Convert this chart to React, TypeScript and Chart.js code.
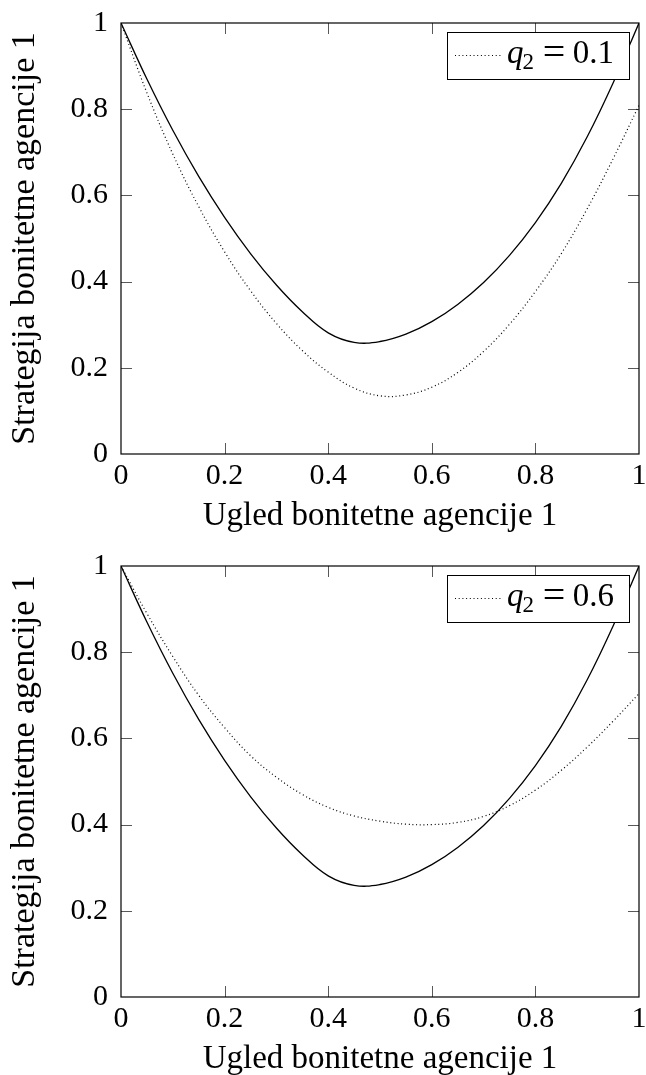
import React, { useEffect, useRef } from 'react';
import { Chart, registerables } from 'chart.js';

Chart.register(...registerables);

// ---- data ----
const xValues = [0, 0.05, 0.1, 0.15, 0.2, 0.25, 0.3, 0.35, 0.4, 0.45, 0.5, 0.55, 0.6, 0.65, 0.7, 0.75, 0.8, 0.85, 0.9, 0.95, 1];
const solidValues = [1, 0.87, 0.751, 0.644, 0.549, 0.465, 0.392, 0.33, 0.281, 0.259, 0.261, 0.278, 0.307, 0.347, 0.398, 0.461, 0.537, 0.628, 0.736, 0.861, 1];
const dottedQ01 = [1, 0.838, 0.696, 0.574, 0.469, 0.379, 0.303, 0.24, 0.19, 0.153, 0.135, 0.137, 0.155, 0.189, 0.238, 0.301, 0.377, 0.465, 0.569, 0.685, 0.809];
const dottedQ06 = [1, 0.89, 0.79, 0.7, 0.625, 0.56, 0.51, 0.47, 0.44, 0.42, 0.408, 0.401, 0.4, 0.405, 0.419, 0.444, 0.48, 0.526, 0.58, 0.64, 0.704];
const xTicks = [0, 0.2, 0.4, 0.6, 0.8, 1];
const xTickLabels = ['0', '0.2', '0.4', '0.6', '0.8', '1'];
const yTicks = [0, 0.2, 0.4, 0.6, 0.8, 1];
const yTickLabels = ['0', '0.2', '0.4', '0.6', '0.8', '1'];
const q2Labels = ['0.1', '0.6'];
const xTitle = 'Ugled bonitetne agencije 1';
const yTitle = 'Strategija bonitetne agencije 1';

const FONT = 'Liberation Serif';
const W = 646;
const H = 543;

const framePlugin = {
  id: 'frameTicks',
  afterDraw(chart: any) {
    const { ctx, chartArea: a, scales } = chart;
    ctx.save();
    ctx.strokeStyle = 'rgba(0,0,0,0.65)';
    ctx.lineWidth = 1;
    const tl = 11;
    scales.x.ticks.forEach((t: any) => {
      if (t.value <= 0 || t.value >= 1) return;
      const px = Math.round(scales.x.getPixelForValue(t.value)) + 0.5;
      ctx.beginPath();
      ctx.moveTo(px, a.bottom);
      ctx.lineTo(px, a.bottom - tl);
      ctx.moveTo(px, a.top);
      ctx.lineTo(px, a.top + tl);
      ctx.stroke();
    });
    scales.y.ticks.forEach((t: any) => {
      if (t.value <= 0 || t.value >= 1) return;
      const py = Math.round(scales.y.getPixelForValue(t.value)) + 0.5;
      ctx.beginPath();
      ctx.moveTo(a.left, py);
      ctx.lineTo(a.left + tl, py);
      ctx.moveTo(a.right, py);
      ctx.lineTo(a.right - tl, py);
      ctx.stroke();
    });
    ctx.strokeStyle = '#000';
    ctx.lineWidth = 1.2;
    ctx.strokeRect(a.left, a.top, a.right - a.left, a.bottom - a.top);
    ctx.restore();
  },
};

const legendPlugin = {
  id: 'innerLegend',
  afterDraw(chart: any) {
    const { ctx, chartArea: a } = chart;
    const label = chart.options.plugins.innerLegend.value;
    const bw = 182;
    const bh = 47;
    const bx = a.right - 10 - bw;
    const by = a.top + 9;
    ctx.save();
    ctx.fillStyle = '#fff';
    ctx.fillRect(bx, by, bw, bh);
    ctx.strokeStyle = '#000';
    ctx.lineWidth = 1;
    ctx.strokeRect(bx + 0.5, by + 0.5, bw, bh);
    ctx.setLineDash([1, 2.7]);
    ctx.lineWidth = 1.2;
    ctx.beginPath();
    ctx.moveTo(bx + 8, by + 23.5);
    ctx.lineTo(bx + 56, by + 23.5);
    ctx.stroke();
    ctx.setLineDash([]);
    ctx.fillStyle = '#000';
    ctx.textBaseline = 'alphabetic';
    const base = by + 31;
    let x = bx + 60;
    ctx.font = `italic 33px "${FONT}"`;
    ctx.textAlign = 'left';
    ctx.fillText('q', x, base);
    x += ctx.measureText('q').width - 1;
    ctx.font = `23px "${FONT}"`;
    ctx.fillText('2', x, base + 6);
    ctx.font = `40px "${FONT}"`;
    ctx.textAlign = 'center';
    ctx.fillText('=', bx + 107, base + 2);
    ctx.font = `33px "${FONT}"`;
    ctx.textAlign = 'right';
    ctx.fillText(label, bx + bw - 15, base);
    ctx.restore();
  },
};

function LineChart({ dotted, label }: { dotted: number[]; label: string }) {
  const ref = useRef<HTMLCanvasElement>(null);
  useEffect(() => {
    if (!ref.current) return;
    const chart = new Chart(ref.current, {
      type: 'line',
      data: {
        datasets: [
          {
            data: xValues.map((x, i) => ({ x, y: solidValues[i] })),
            borderColor: '#000',
            borderWidth: 1.3,
            pointRadius: 0,
            tension: 0.4,
            fill: false,
          },
          {
            data: xValues.map((x, i) => ({ x, y: dotted[i] })),
            borderColor: '#000',
            borderWidth: 1.2,
            borderDash: [1, 2.7],
            pointRadius: 0,
            tension: 0.4,
            fill: false,
          },
        ],
      },
      options: {
        responsive: false,
        animation: false,
        devicePixelRatio: 1,
        layout: { padding: { top: 23, right: 7, left: 0, bottom: 0 } },
        plugins: {
          legend: { display: false },
          tooltip: { enabled: false },
          innerLegend: { value: label },
        } as any,
        scales: {
          x: {
            type: 'linear',
            min: 0,
            max: 1,
            grid: { display: false, drawTicks: false },
            border: { display: false },
            afterBuildTicks: (s: any) => {
              s.ticks = xTicks.map((v) => ({ value: v }));
            },
            afterFit: (s: any) => {
              s.height = 89;
              s.paddingLeft = 0;
              s.paddingRight = 0;
              s.paddingTop = 0;
              s.paddingBottom = 0;
            },
            ticks: {
              autoSkip: false,
              maxRotation: 0,
              minRotation: 0,
              padding: 4,
              color: '#000',
              font: { family: FONT, size: 30 },
              callback: (_v: any, i: number) => xTickLabels[i],
            },
            title: {
              display: true,
              text: xTitle,
              color: '#000',
              font: { family: FONT, size: 33 },
              padding: { top: 0, bottom: 7 },
            },
          },
          y: {
            type: 'linear',
            min: 0,
            max: 1,
            grid: { display: false, drawTicks: false },
            border: { display: false },
            afterBuildTicks: (s: any) => {
              s.ticks = yTicks.map((v) => ({ value: v }));
            },
            afterFit: (s: any) => {
              s.width = 121;
              s.paddingLeft = 0;
              s.paddingRight = 0;
              s.paddingTop = 0;
              s.paddingBottom = 0;
            },
            ticks: {
              autoSkip: false,
              padding: 13,
              color: '#000',
              font: { family: FONT, size: 30 },
              callback: (_v: any, i: number) => yTickLabels[i],
            },
            title: {
              display: true,
              text: yTitle,
              color: '#000',
              font: { family: FONT, size: 34 },
              padding: { top: 5, bottom: 0 },
            },
          },
        },
      },
      plugins: [framePlugin, legendPlugin],
    } as any);
    return () => chart.destroy();
  }, [dotted, label]);
  return (
    <canvas
      ref={ref}
      width={W}
      height={H}
      style={{ display: 'block', width: W, height: H }}
    />
  );
}

export default function App() {
  return (
    <div
      style={{
        position: 'absolute',
        left: 0,
        top: 0,
        width: W,
        height: 1075,
        overflow: 'hidden',
        background: '#fff',
      }}
    >
      <LineChart dotted={dottedQ01} label={q2Labels[0]} />
      <LineChart dotted={dottedQ06} label={q2Labels[1]} />
    </div>
  );
}
